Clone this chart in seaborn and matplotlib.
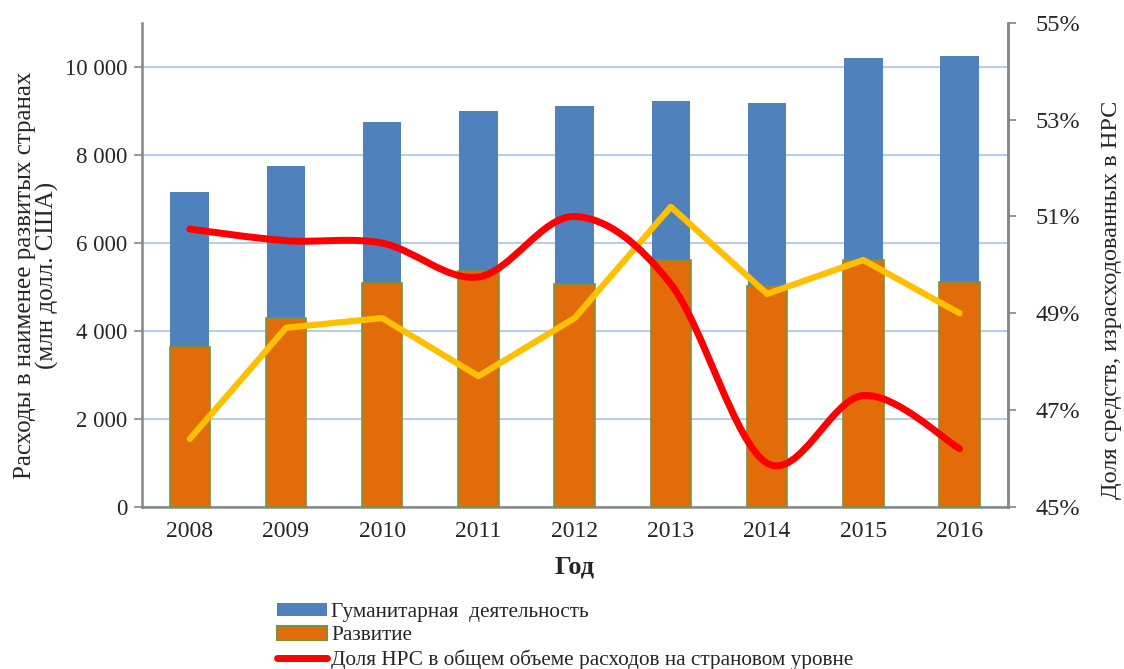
import numpy as np
import pandas as pd
import matplotlib
matplotlib.use('Agg')
import matplotlib.pyplot as plt
import seaborn as sns
from matplotlib.path import Path
from matplotlib.patches import PathPatch, Patch
from matplotlib.lines import Line2D
from matplotlib.ticker import FuncFormatter, MultipleLocator, FixedLocator

# data
years = ['2008', '2009', '2010', '2011', '2012', '2013', '2014', '2015', '2016']
total_spend = [7160, 7740, 8760, 8990, 9110, 9230, 9180, 10200, 10250]   # blue bar top
development = [3640, 4300, 5090, 5350, 5060, 5600, 5020, 5620, 5100]     # orange part
share_ldc = [50.74, 50.5, 50.45, 49.75, 51.0, 49.6, 45.9, 47.3, 46.2]   # red, %
share_other = [46.4, 48.7, 48.9, 47.7, 48.9, 51.2, 49.4, 50.1, 49.0]    # yellow, %
right_ticks = [45, 47, 49, 51, 53, 55]

lbl_hum = 'Гуманитарная  деятельность'
lbl_dev = 'Развитие'
lbl_share = 'Доля НРС в общем объеме расходов на страновом уровне'

df = pd.DataFrame({'year': years, 'total': total_spend, 'dev': development,
                   'share': share_ldc, 'other': share_other})
df['pos'] = np.arange(len(df))

sns.set_style('white')
plt.rcParams['font.family'] = ['Liberation Serif', 'DejaVu Serif']

blue = '#4F81BD'
orange = '#E36C0A'
green = '#77933C'
grey = '#868686'

fig = plt.figure(figsize=(11.24, 6.69), dpi=100)
ax = fig.add_axes([0.126, 0.2426, 0.7705, 0.723])

sns.barplot(data=df, x='year', y='total', color=blue, width=0.40, ax=ax,
            saturation=1, edgecolor='none', zorder=2)
sns.barplot(data=df, x='year', y='dev', color=orange, width=0.42, ax=ax,
            saturation=1, edgecolor=green, linewidth=1.2, zorder=3)

ax.set_xlim(-0.5, 8.5)
ax.set_ylim(0, 11000)
ax.yaxis.set_major_locator(MultipleLocator(2000))
ax.yaxis.set_major_formatter(FuncFormatter(lambda v, p: f'{int(v):,}'.replace(',', ' ')))
ax.grid(axis='y', color='#B9CDE5', linewidth=1.5, zorder=0)
ax.set_axisbelow(True)

# category ticks sit between the bars
ax.set_xticks(np.arange(-0.5, 9.0, 1.0), minor=True)
ax.tick_params(axis='x', which='major', length=0, labelsize=17, pad=10)
ax.tick_params(axis='x', which='minor', length=6, width=1.2, color=grey, direction='out')
ax.tick_params(axis='y', length=6, width=1.2, color=grey, direction='out', labelsize=16.5, pad=4)

for s in ['left', 'bottom', 'right']:
    ax.spines[s].set_color(grey)
    ax.spines[s].set_linewidth(1.8)
ax.spines['top'].set_visible(False)

ax.set_xlabel('Год', fontsize=19, fontweight='bold', labelpad=10)
ax.set_ylabel('Расходы в наименее развитых странах\n(млн долл. США)', fontsize=18,
              linespacing=1.0)
ax.yaxis.set_label_coords(-0.095, 0.479)

ax2 = ax.twinx()
ax2.set_ylim(45, 55)
ax2.yaxis.set_major_locator(FixedLocator(right_ticks))
ax2.yaxis.set_major_formatter(FuncFormatter(lambda v, p: f'{int(round(v))}%'))
ax2.tick_params(axis='y', length=6, width=1.2, color=grey, direction='out', labelsize=17.5, pad=14)
for s in ['left', 'bottom', 'top']:
    ax2.spines[s].set_visible(False)
ax2.spines['right'].set_color(grey)
ax2.spines['right'].set_linewidth(1.8)
ax2.set_ylabel('Доля средств, израсходованных в НРС', fontsize=17.5)
ax2.yaxis.set_label_coords(1.108, 0.427)

# yellow series: straight segments
sns.lineplot(data=df, x='pos', y='other', color='#FFC000', linewidth=4.5, ax=ax2,
             legend=False, zorder=4)

# red series: smoothed curve (Bezier through the data points, like Excel smoothing)
px = df['pos'].to_numpy(dtype=float)
py = df['share'].to_numpy(dtype=float)
verts = [(px[0], py[0])]
codes = [Path.MOVETO]
n = len(px)
for i in range(n - 1):
    p0 = (px[max(i - 1, 0)], py[max(i - 1, 0)])
    p1 = (px[i], py[i])
    p2 = (px[i + 1], py[i + 1])
    p3 = (px[min(i + 2, n - 1)], py[min(i + 2, n - 1)])
    c1 = (p1[0] + (p2[0] - p0[0]) / 6, p1[1] + (p2[1] - p0[1]) / 6)
    c2 = (p2[0] - (p3[0] - p1[0]) / 6, p2[1] - (p3[1] - p1[1]) / 6)
    verts += [c1, c2, p2]
    codes += [Path.CURVE4] * 3
ax2.add_patch(PathPatch(Path(verts, codes), facecolor='none', edgecolor='#FF0000',
                        linewidth=5, capstyle='round', zorder=5))
ax2.set_xlim(-0.5, 8.5)
ax2.set_xlabel('')

handles = [Patch(facecolor=blue, edgecolor='none'),
           Patch(facecolor=orange, edgecolor=green, linewidth=1.5),
           Line2D([0], [0], color='#FF0000', linewidth=5, solid_capstyle='round')]
fig.legend(handles, [lbl_hum, lbl_dev, lbl_share], loc='upper left',
           bbox_to_anchor=(0.2465, 0.099), frameon=False, fontsize=15.3,
           handlelength=2.35, handleheight=0.6, handletextpad=0.2,
           labelspacing=0.2, borderpad=0, borderaxespad=0)

fig.savefig('out.png', dpi=100)
